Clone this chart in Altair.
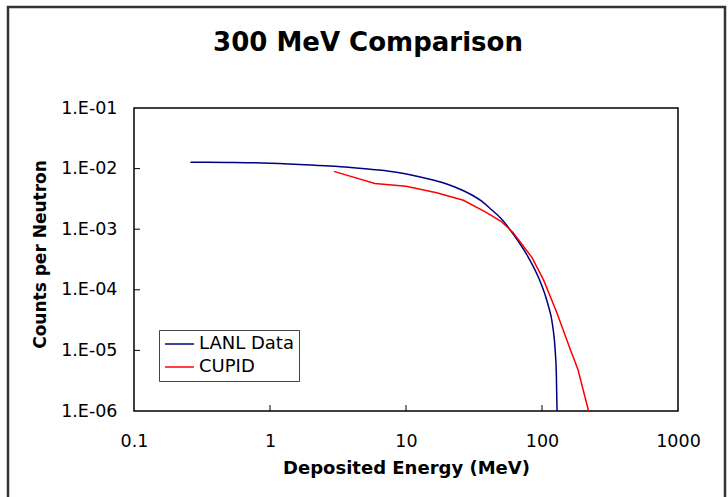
import altair as alt
import pandas as pd

# ---- data ----
lanl_x = [0.26, 0.5, 1.0, 2.0, 3.0, 5.0, 8.0, 12.0, 19.0, 26.0, 31.0, 36.0, 41.5, 50.0, 61.0, 79.0, 96.0, 110.0, 120.0, 125.0, 127.5, 129.0]
lanl_y = [0.0127, 0.0126, 0.0123, 0.0115, 0.0109, 0.0099, 0.0089, 0.0075, 0.0058, 0.0044, 0.0036, 0.0029, 0.0022, 0.00150, 0.00085, 0.00035, 0.000145, 6.0e-5, 2.5e-5, 1.0e-5, 4.0e-6, 1.0e-6]
cupid_x = [2.95, 5.9, 10.0, 16.8, 26.4, 38.9, 50.0, 61.2, 84.5, 103.0, 129.0, 160.0, 184.0, 220.0]
cupid_y = [0.0090, 0.0057, 0.0051, 0.0040, 0.0030, 0.0019, 0.00135, 0.00088, 0.00034, 0.000143, 4.1e-5, 1.1e-5, 4.8e-6, 1.0e-6]

series_names = ["LANL Data", "CUPID"]
series_colors = ["#000080", "#FF0000"]
x_label_values = [0.1, 1, 10, 100, 1000]
y_label_values = [1e-6, 1e-5, 1e-4, 1e-3, 1e-2, 1e-1]
x_inner_ticks = [1, 10, 100]
y_inner_ticks = [1e-5, 1e-4, 1e-3, 1e-2]
chart_title = ["300 MeV Comparison"]

lanl_df = pd.DataFrame({"series": series_names[0], "e": lanl_x, "c": lanl_y, "i": range(len(lanl_x))})
cupid_df = pd.DataFrame({"series": series_names[1], "e": cupid_x, "c": cupid_y, "i": range(len(cupid_x))})

FONT = "DejaVu Sans"
W, H = 544, 303

xscale = alt.Scale(type="log", domain=[0.1, 1000], nice=False)
yscale = alt.Scale(type="log", domain=[1e-6, 1e-1], nice=False)
cscale = alt.Scale(domain=series_names, range=series_colors)

x_axis = alt.Axis(
    values=x_label_values, format="~g", labelFont=FONT, labelFontSize=17.5,
    labelColor="black", labelPadding=21, labelFlush=False, ticks=False,
    domain=False, grid=False, title="Deposited Energy (MeV)",
    titleFont=FONT, titleFontSize=18, titleFontWeight="bold", titleColor="black",
    titleY=57, titleBaseline="middle")
y_axis = alt.Axis(
    values=y_label_values,
    labelExpr="'1.E-0' + format(-round(log(datum.value)/LN10), 'd')",
    labelFont=FONT, labelFontSize=17.5, labelColor="black", labelPadding=17,
    ticks=False, domain=False, grid=False, title="Counts per Neutron",
    titleFont=FONT, titleFontSize=17, titleFontWeight="bold", titleColor="black",
    titleX=-94, titleY=146, titleBaseline="middle")
legend = alt.Legend(title=None, orient="none", legendX=25, legendY=222,
                    symbolType="stroke", symbolSize=841, symbolStrokeWidth=1.5,
                    labelFont=FONT, labelFontSize=18, labelColor="black",
                    strokeColor="#444444", fillColor="white", padding=5,
                    labelOffset=4, rowPadding=5, clipHeight=18)

border = alt.Chart(alt.Data(values=[{"a": 1}])).mark_rect(
    fillOpacity=0, stroke="#333333", strokeWidth=2.5
).encode(
    x=alt.value(-126), x2=alt.value(591), y=alt.value(-101), y2=alt.value(400)
)

title = alt.Chart(pd.DataFrame({"t": chart_title})).mark_text(
    font=FONT, fontSize=26, fontWeight="bold", color="black",
    align="center", baseline="middle"
).encode(text="t:N", x=alt.value(234), y=alt.value(-65))

lanl = alt.Chart(lanl_df).mark_line(strokeWidth=1.5, clip=True, interpolate="monotone").encode(
    x=alt.X("e:Q", scale=xscale, axis=x_axis),
    y=alt.Y("c:Q", scale=yscale, axis=y_axis),
    color=alt.Color("series:N", scale=cscale, legend=legend),
    order=alt.Order("i:Q"),
)
cupid = alt.Chart(cupid_df).mark_line(strokeWidth=1.5, clip=True).encode(
    x=alt.X("e:Q", scale=xscale, axis=x_axis),
    y=alt.Y("c:Q", scale=yscale, axis=y_axis),
    color=alt.Color("series:N", scale=cscale, legend=legend),
    order=alt.Order("i:Q"),
)

xt = alt.Chart(pd.DataFrame({"e": x_inner_ticks})).mark_rule(color="black", strokeWidth=1).encode(
    x=alt.X("e:Q", scale=xscale, axis=x_axis), y=alt.value(H), y2=alt.value(H - 6)
)
yt = alt.Chart(pd.DataFrame({"c": y_inner_ticks})).mark_rule(color="black", strokeWidth=1).encode(
    y=alt.Y("c:Q", scale=yscale, axis=y_axis), x=alt.value(0), x2=alt.value(6)
)

chart = alt.layer(lanl, cupid, xt, yt, border, title).properties(
    width=W, height=H,
    padding={"left": 134, "top": 108, "right": 50, "bottom": 86},
    autosize=alt.AutoSizeParams(type="none"),
).configure(background="white").configure_view(stroke="black", strokeWidth=1.5)

chart.save("out.html", embed_options={"renderer": "svg", "actions": False})
